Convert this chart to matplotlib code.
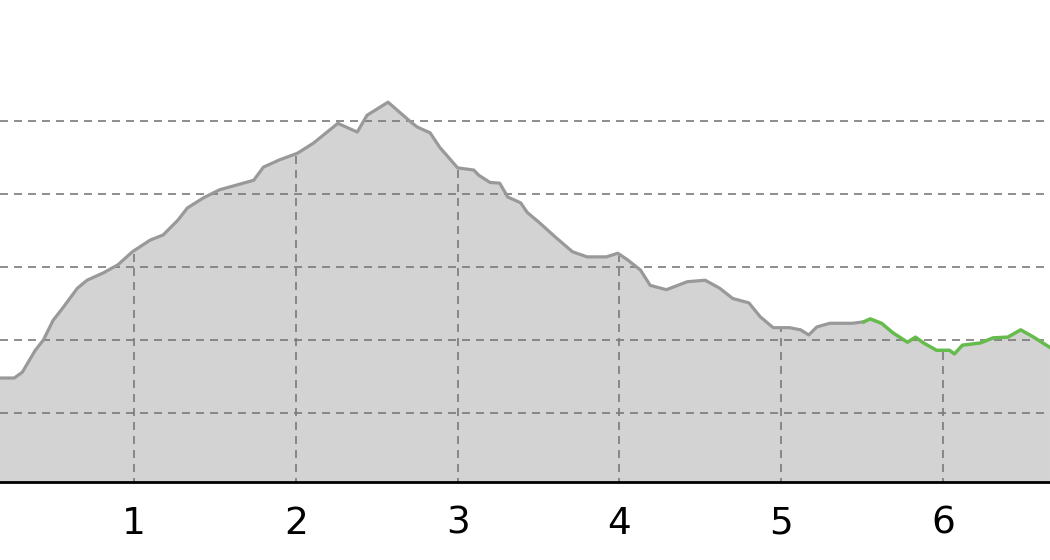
import matplotlib
matplotlib.use('Agg')
import numpy as np
import matplotlib.pyplot as plt

# jarak (km) dan ketinggian (m) - bagian abu-abu
dist = [0.17, 0.26, 0.31, 0.39, 0.44, 0.50, 0.56, 0.65, 0.71, 0.81, 0.90, 0.99,
        1.10, 1.18, 1.27, 1.33, 1.43, 1.53, 1.74, 1.80, 1.90, 2.01, 2.11, 2.21,
        2.26, 2.38, 2.44, 2.57, 2.71, 2.75, 2.83, 2.89, 3.00, 3.10, 3.13, 3.20,
        3.26, 3.31, 3.39, 3.43, 3.51, 3.61, 3.71, 3.80, 3.92, 3.99, 4.05, 4.13,
        4.19, 4.29, 4.42, 4.53, 4.62, 4.70, 4.80, 4.87, 4.95, 5.05, 5.12, 5.17,
        5.22, 5.30, 5.44, 5.51]
elev = [148, 148, 156, 186, 200, 227, 244, 271, 282, 292, 303, 321,
        337, 344, 364, 381, 395, 406, 419, 437, 447, 456, 470, 488,
        497, 485, 508, 526, 499, 492, 484, 464, 436, 433, 426, 416,
        415, 396, 388, 375, 360, 340, 321, 314, 314, 319, 310, 296,
        275, 269, 280, 282, 271, 257, 251, 232, 217, 217, 214, 207,
        218, 223, 223, 225]

# bagian hijau
dist_g = [5.51, 5.55, 5.62, 5.69, 5.78, 5.83, 5.88, 5.96, 6.04, 6.07, 6.12,
          6.23, 6.31, 6.40, 6.48, 6.56, 6.66]
elev_g = [225, 229, 223, 210, 197, 204, 196, 186, 186, 181, 193,
          196, 203, 204, 214, 204, 190]

xticks = [1, 2, 3, 4, 5, 6]
yticks = [100, 200, 300, 400, 500]

fig = plt.figure(figsize=(10.5, 5.6), dpi=100)
ax = fig.add_axes([0, 78/560, 1, 482/560])

all_d = dist + dist_g[1:]
all_e = elev + elev_g[1:]
ax.fill_between(all_d, 0, all_e, color='#d3d3d3', zorder=1)

# garis grid: horizontal penuh, vertikal hanya di bawah profil
gs = dict(color='#7a7a7a', lw=1.2, linestyle=(0, (4.8, 3.6)), zorder=2)
for yv in yticks:
    ax.axhline(yv, **gs)
top = np.interp(xticks, all_d, all_e)
ax.vlines(xticks, 0, top, **gs)

ax.plot(dist, elev, color='#999999', lw=2.3, zorder=3)
ax.plot(dist_g, elev_g, color='#66bb4d', lw=2.5, zorder=3)

ax.set_xlim(0.172, 6.661)
ax.set_ylim(5.5, 666)
ax.set_xticks(xticks)
ax.set_yticks([])
ax.tick_params(axis='x', length=0, pad=17, labelsize=27)

for s in ['top', 'right', 'left']:
    ax.spines[s].set_visible(False)
ax.spines['bottom'].set_linewidth(2)
ax.spines['bottom'].set_color('black')
ax.spines['bottom'].set_zorder(4)

fig.savefig('out.png', dpi=100)
